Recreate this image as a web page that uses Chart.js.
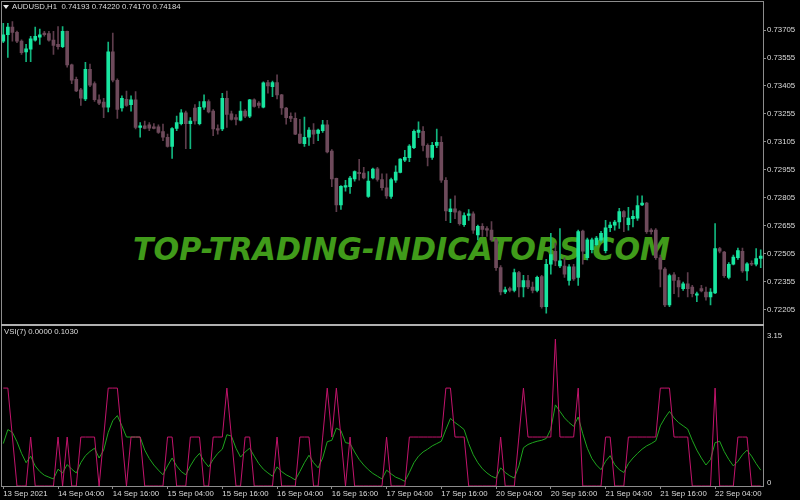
<!DOCTYPE html>
<html>
<head>
<meta charset="utf-8">
<script src="https://cdn.jsdelivr.net/npm/chart.js@4.4.0/dist/chart.umd.min.js"></script>
<style>
  html, body { margin: 0; padding: 0; background: #000; }
  #wrap { position: relative; width: 800px; height: 500px; overflow: hidden; background: #000;
          font-family: 'Liberation Sans', Arial, sans-serif; }
  #mark { position: absolute; left: 0; top: 0; }
  #priceBox { position: absolute; left: 0; top: 0; width: 800px; height: 326px; }
  #vsiBox { position: absolute; left: 0; top: 326px; width: 800px; height: 174px; }
  .frame { position: absolute; left: 1px; top: 1px; width: 763px; height: 485px; box-sizing: border-box;
           border-left: 1px solid #8c8c8c; border-top: 1px solid #8c8c8c; border-right: 1px solid #8c8c8c; }
  .sep { position: absolute; left: 1px; top: 324px; width: 763px; height: 2px; background: #b0b0b0; }
  .caption { position: absolute; color: #dcdcdc; font-size: 7.8px; line-height: 9px; white-space: pre; }
  .tri { position: absolute; left: 3px; top: 5px; width: 0; height: 0;
         border-left: 3px solid transparent; border-right: 3px solid transparent; border-top: 4px solid #e6e6e6; }
</style>
</head>
<body>
<div id="wrap">
  <svg id="mark" width="800" height="500">
    <text x="133" y="260" textLength="537" lengthAdjust="spacingAndGlyphs"
          font-family="DejaVu Sans" font-weight="bold" font-style="italic" font-size="31.5"
          fill="#409b1a">TOP-TRADING-INDICATORS.COM</text>
  </svg>
  <div id="priceBox"><canvas id="price"></canvas></div>
  <div id="vsiBox"><canvas id="vsi"></canvas></div>
  <div class="frame"></div>
  <div class="sep"></div>
  <div class="tri"></div>
  <div class="caption" style="left:12px; top:2px;">AUDUSD,H1  0.74193 0.74220 0.74170 0.74184</div>
  <div class="caption" style="left:4px; top:327px;">VSI(7) 0.0000 0.1030</div>
</div>
<script>
// AUDUSD H1, 13 Sep 16:00 -> 22 Sep 14:00
const open = [
  0.73646, 0.73680, 0.73721, 0.73693, 0.73646, 0.73588, 0.73602, 0.73651, 0.73667, 0.73689,
  0.73686, 0.73651, 0.73628, 0.73616, 0.73698, 0.73518, 0.73441, 0.73384, 0.73336, 0.73494,
  0.73418, 0.73331, 0.73318, 0.73291, 0.73588, 0.73436, 0.73287, 0.73334, 0.73305, 0.73331,
  0.73182, 0.73191, 0.73196, 0.73186, 0.73186, 0.73160, 0.73130, 0.73081, 0.73177, 0.73203,
  0.73261, 0.73203, 0.73287, 0.73203, 0.73291, 0.73322, 0.73270, 0.73177, 0.73174, 0.73339,
  0.73256, 0.73235, 0.73222, 0.73270, 0.73243, 0.73331, 0.73313, 0.73291, 0.73423, 0.73401,
  0.73423, 0.73357, 0.73287, 0.73242, 0.73231, 0.73147, 0.73095, 0.73130, 0.73168, 0.73151,
  0.73165, 0.73196, 0.73056, 0.72909, 0.72766, 0.72862, 0.72864, 0.72906, 0.72941, 0.72938,
  0.72812, 0.72911, 0.72960, 0.72903, 0.72859, 0.72812, 0.72899, 0.72941, 0.73007, 0.73020,
  0.73074, 0.73156, 0.73161, 0.73086, 0.73022, 0.73086, 0.73103, 0.72899, 0.72731, 0.72745,
  0.72731, 0.72661, 0.72710, 0.72719, 0.72605, 0.72652, 0.72640, 0.72631, 0.72579, 0.72430,
  0.72299, 0.72317, 0.72308, 0.72404, 0.72326, 0.72361, 0.72326, 0.72308, 0.72382, 0.72221,
  0.72448, 0.72518, 0.72439, 0.72439, 0.72361, 0.72434, 0.72378, 0.72626, 0.72483, 0.72526,
  0.72553, 0.72577, 0.72521, 0.72644, 0.72658, 0.72675, 0.72731, 0.72661, 0.72693, 0.72696,
  0.72766, 0.72777, 0.72631, 0.72631, 0.72483, 0.72422, 0.72230, 0.72392, 0.72361, 0.72317,
  0.72343, 0.72326, 0.72282, 0.72317, 0.72299, 0.72273, 0.72294, 0.72532, 0.72514, 0.72378,
  0.72448, 0.72483, 0.72518, 0.72413, 0.72451, 0.72448, 0.72479
];
const high = [
  0.73742, 0.73742, 0.73751, 0.73700, 0.73653, 0.73628, 0.73672, 0.73721, 0.73710, 0.73698,
  0.73698, 0.73698, 0.73724, 0.73724, 0.73700, 0.73523, 0.73453, 0.73392, 0.73532, 0.73523,
  0.73427, 0.73357, 0.73339, 0.73641, 0.73689, 0.73444, 0.73352, 0.73378, 0.73352, 0.73375,
  0.73208, 0.73217, 0.73208, 0.73203, 0.73196, 0.73200, 0.73147, 0.73182, 0.73243, 0.73279,
  0.73270, 0.73235, 0.73305, 0.73322, 0.73357, 0.73331, 0.73279, 0.73196, 0.73366, 0.73378,
  0.73270, 0.73252, 0.73322, 0.73279, 0.73334, 0.73336, 0.73322, 0.73427, 0.73436, 0.73431,
  0.73465, 0.73360, 0.73291, 0.73261, 0.73261, 0.73226, 0.73238, 0.73182, 0.73203, 0.73174,
  0.73221, 0.73221, 0.73064, 0.72911, 0.72871, 0.72899, 0.72920, 0.72950, 0.73011, 0.72969,
  0.72946, 0.72964, 0.72969, 0.72934, 0.72934, 0.72911, 0.72976, 0.73016, 0.73060, 0.73091,
  0.73170, 0.73212, 0.73187, 0.73095, 0.73103, 0.73174, 0.73133, 0.72913, 0.72798, 0.72815,
  0.72736, 0.72724, 0.72742, 0.72729, 0.72658, 0.72666, 0.72651, 0.72677, 0.72588, 0.72441,
  0.72326, 0.72326, 0.72422, 0.72410, 0.72389, 0.72389, 0.72352, 0.72385, 0.72389, 0.72474,
  0.72614, 0.72562, 0.72640, 0.72483, 0.72446, 0.72448, 0.72631, 0.72631, 0.72588, 0.72588,
  0.72598, 0.72625, 0.72684, 0.72675, 0.72684, 0.72749, 0.72736, 0.72754, 0.72736, 0.72815,
  0.72815, 0.72780, 0.72640, 0.72640, 0.72497, 0.72430, 0.72395, 0.72404, 0.72378, 0.72352,
  0.72404, 0.72335, 0.72299, 0.72335, 0.72326, 0.72317, 0.72666, 0.72539, 0.72518, 0.72457,
  0.72497, 0.72535, 0.72535, 0.72457, 0.72467, 0.72532, 0.72526
];
const low = [
  0.73637, 0.73558, 0.73646, 0.73637, 0.73575, 0.73536, 0.73536, 0.73646, 0.73628, 0.73672,
  0.73646, 0.73575, 0.73602, 0.73611, 0.73506, 0.73418, 0.73375, 0.73301, 0.73326, 0.73401,
  0.73322, 0.73305, 0.73235, 0.73266, 0.73427, 0.73231, 0.73270, 0.73296, 0.73270, 0.73174,
  0.73130, 0.73174, 0.73165, 0.73174, 0.73151, 0.73112, 0.73077, 0.73016, 0.73165, 0.73196,
  0.73069, 0.73069, 0.73200, 0.73196, 0.73279, 0.73261, 0.73139, 0.73147, 0.73165, 0.73182,
  0.73221, 0.73196, 0.73217, 0.73235, 0.73235, 0.73291, 0.73287, 0.73287, 0.73366, 0.73348,
  0.73336, 0.73252, 0.73200, 0.73213, 0.73144, 0.73095, 0.73081, 0.73086, 0.73095, 0.73112,
  0.73156, 0.73046, 0.72864, 0.72731, 0.72742, 0.72841, 0.72829, 0.72894, 0.72899, 0.72906,
  0.72807, 0.72906, 0.72894, 0.72846, 0.72801, 0.72801, 0.72888, 0.72938, 0.72999, 0.72999,
  0.73069, 0.73127, 0.73056, 0.72976, 0.73011, 0.73074, 0.72888, 0.72682, 0.72672, 0.72693,
  0.72658, 0.72651, 0.72684, 0.72614, 0.72579, 0.72598, 0.72598, 0.72572, 0.72415, 0.72284,
  0.72290, 0.72299, 0.72299, 0.72273, 0.72273, 0.72317, 0.72294, 0.72299, 0.72212, 0.72186,
  0.72395, 0.72441, 0.72430, 0.72378, 0.72336, 0.72362, 0.72334, 0.72448, 0.72472, 0.72509,
  0.72546, 0.72567, 0.72509, 0.72623, 0.72631, 0.72640, 0.72623, 0.72631, 0.72649, 0.72684,
  0.72763, 0.72614, 0.72609, 0.72474, 0.72326, 0.72221, 0.72221, 0.72290, 0.72273, 0.72308,
  0.72273, 0.72273, 0.72247, 0.72299, 0.72256, 0.72230, 0.72290, 0.72509, 0.72378, 0.72369,
  0.72445, 0.72474, 0.72404, 0.72361, 0.72441, 0.72439, 0.72430
];
const close = [
  0.73680, 0.73721, 0.73693, 0.73646, 0.73584, 0.73605, 0.73658, 0.73672, 0.73680, 0.73680,
  0.73651, 0.73623, 0.73616, 0.73698, 0.73518, 0.73436, 0.73378, 0.73339, 0.73494, 0.73410,
  0.73331, 0.73313, 0.73291, 0.73588, 0.73436, 0.73279, 0.73339, 0.73301, 0.73331, 0.73182,
  0.73191, 0.73177, 0.73179, 0.73177, 0.73156, 0.73130, 0.73081, 0.73177, 0.73208, 0.73261,
  0.73203, 0.73217, 0.73217, 0.73291, 0.73322, 0.73266, 0.73174, 0.73168, 0.73339, 0.73252,
  0.73226, 0.73226, 0.73270, 0.73243, 0.73331, 0.73296, 0.73301, 0.73422, 0.73406, 0.73423,
  0.73357, 0.73287, 0.73235, 0.73231, 0.73147, 0.73098, 0.73130, 0.73168, 0.73147, 0.73168,
  0.73196, 0.73051, 0.72906, 0.72766, 0.72867, 0.72871, 0.72911, 0.72946, 0.72934, 0.72911,
  0.72894, 0.72959, 0.72903, 0.72859, 0.72815, 0.72903, 0.72943, 0.73013, 0.73022, 0.73082,
  0.73161, 0.73168, 0.73086, 0.73022, 0.73086, 0.73103, 0.72899, 0.72735, 0.72745, 0.72728,
  0.72666, 0.72710, 0.72719, 0.72631, 0.72652, 0.72635, 0.72631, 0.72579, 0.72430, 0.72299,
  0.72311, 0.72308, 0.72404, 0.72326, 0.72361, 0.72326, 0.72308, 0.72378, 0.72221, 0.72448,
  0.72500, 0.72466, 0.72466, 0.72395, 0.72434, 0.72369, 0.72623, 0.72518, 0.72579, 0.72579,
  0.72588, 0.72614, 0.72644, 0.72658, 0.72675, 0.72731, 0.72702, 0.72696, 0.72705, 0.72763,
  0.72777, 0.72623, 0.72623, 0.72483, 0.72422, 0.72230, 0.72387, 0.72361, 0.72326, 0.72343,
  0.72317, 0.72290, 0.72290, 0.72305, 0.72273, 0.72299, 0.72532, 0.72518, 0.72387, 0.72448,
  0.72487, 0.72521, 0.72413, 0.72451, 0.72448, 0.72479, 0.72492
];

// VSI(7) main line and its signal line
const vsiLine = [
  2.1, 2.1, 1.05, 0, 0, 0, 1.05, 0, 0, 0,
  0, 0, 1.05, 0, 1.05, 0, 0, 1.05, 1.05, 1.05,
  1.05, 0, 1.05, 2.1, 2.1, 2.1, 1.05, 0, 1.05, 1.05,
  1.05, 0, 0, 0, 0, 0, 1.05, 1.05, 0, 0,
  0, 1.05, 1.05, 1.05, 0, 0, 1.05, 1.05, 1.05, 2.1,
  1.05, 0, 0, 1.05, 1.05, 0, 0, 0, 0, 0,
  1.05, 0, 0, 0, 0, 1.05, 1.05, 1.05, 0, 0,
  1.05, 2.1, 1.05, 2.1, 1.05, 0, 1.05, 0, 0, 0,
  0, 0, 0, 0, 1.05, 0, 0, 0, 0, 1.05,
  1.05, 1.05, 1.05, 1.05, 1.05, 1.05, 1.05, 2.1, 2.1, 1.05,
  1.05, 1.05, 0, 0, 0, 0, 0, 0, 0, 1.05,
  0, 0, 0, 1.05, 2.1, 1.05, 1.05, 1.05, 1.05, 1.05,
  1.05, 3.15, 1.05, 1.05, 1.05, 1.05, 2.1, 0, 0, 0,
  0, 0, 1.05, 1.05, 0, 0, 0, 1.05, 1.05, 1.05,
  1.05, 1.05, 1.05, 1.05, 2.1, 2.1, 2.1, 1.05, 1.05, 1.05,
  1.05, 0, 0, 0, 0, 0, 2.1, 0, 0, 0,
  0, 1.05, 1.05, 1.05, 0, 0, 0
];
const vsiSignal = [
  0.91, 1.21, 1.15, 0.95, 0.70, 0.50, 0.64, 0.43, 0.31, 0.23,
  0.19, 0.15, 0.36, 0.28, 0.46, 0.36, 0.28, 0.50, 0.65, 0.74,
  0.81, 0.60, 0.77, 1.15, 1.40, 1.51, 1.29, 1.05, 1.05, 1.05,
  1.05, 0.77, 0.59, 0.45, 0.34, 0.24, 0.43, 0.60, 0.43, 0.31,
  0.24, 0.43, 0.59, 0.70, 0.53, 0.41, 0.57, 0.70, 0.79, 1.10,
  1.07, 0.81, 0.62, 0.73, 0.81, 0.64, 0.48, 0.36, 0.28, 0.21,
  0.41, 0.31, 0.24, 0.19, 0.13, 0.31, 0.50, 0.66, 0.50, 0.39,
  0.60, 0.95, 0.98, 1.24, 1.19, 0.93, 0.91, 0.73, 0.57, 0.45,
  0.35, 0.27, 0.21, 0.15, 0.34, 0.26, 0.19, 0.15, 0.10, 0.29,
  0.50, 0.64, 0.73, 0.79, 0.86, 0.91, 0.96, 1.21, 1.45, 1.36,
  1.29, 1.21, 0.91, 0.67, 0.50, 0.37, 0.28, 0.21, 0.17, 0.39,
  0.29, 0.22, 0.17, 0.43, 0.82, 0.89, 0.93, 0.96, 0.98, 1.02,
  1.22, 1.74, 1.60, 1.46, 1.36, 1.28, 1.48, 1.12, 0.81, 0.59,
  0.45, 0.35, 0.53, 0.65, 0.46, 0.35, 0.29, 0.48, 0.60, 0.70,
  0.79, 0.86, 0.91, 0.97, 1.29, 1.46, 1.60, 1.46, 1.36, 1.29,
  1.22, 0.98, 0.77, 0.60, 0.45, 0.57, 0.93, 0.96, 0.74, 0.57,
  0.43, 0.53, 0.67, 0.77, 0.64, 0.48, 0.34
];

const priceTicks = [0.72205, 0.72355, 0.72505, 0.72655, 0.72805, 0.72955, 0.73105, 0.73255, 0.73405, 0.73555, 0.73705];
const vsiTicks = [0, 3.15];
const timeLabels = ['13 Sep 2021', '14 Sep 04:00', '14 Sep 16:00', '15 Sep 04:00', '15 Sep 16:00',
  '16 Sep 04:00', '16 Sep 16:00', '17 Sep 04:00', '17 Sep 16:00', '20 Sep 04:00', '20 Sep 16:00',
  '21 Sep 04:00', '21 Sep 16:00', '22 Sep 04:00'];
const labelEvery = 12;
const categories = open.map((_, i) => i);

const BULL = '#18e6a0';
const BULL_WICK = '#12b57e';
const BEAR = '#6e4a5b';
const BEAR_WICK = '#5e3d4c';
const AXIS = '#8c8c8c';
const TEXT = '#dcdcdc';
const FONT = {family: "'Liberation Sans', Arial, sans-serif", size: 7.8};
const AXIS_W = 37;

Chart.defaults.animation = false;
Chart.defaults.plugins.legend.display = false;
Chart.defaults.plugins.tooltip.enabled = false;

const bull = close.map((c, i) => c >= open[i]);

new Chart(document.getElementById('price'), {
  type: 'bar',
  data: {
    labels: categories,
    datasets: [{
      data: open.map((o, i) => [o, close[i]]),
      backgroundColor: bull.map(b => b ? BULL : BEAR),
      barThickness: 3,
      minBarLength: 1,
      grouped: false,
      order: 0,
    }, {
      data: low.map((l, i) => [l, high[i]]),
      backgroundColor: bull.map(b => b ? BULL_WICK : BEAR_WICK),
      barThickness: 1,
      grouped: false,
      order: 1,
    }],
  },
  options: {
    responsive: true,
    maintainAspectRatio: false,
    devicePixelRatio: 1,
    layout: {padding: {left: 1, top: 2, right: 0, bottom: 2}},
    scales: {
      x: {display: false, offset: true},
      y: {
        position: 'right',
        min: 0.721472,
        max: 0.738361,
        afterFit: s => { s.width = AXIS_W; },
        afterBuildTicks: s => { s.ticks = priceTicks.map(v => ({value: v})); },
        ticks: {color: TEXT, font: FONT, padding: 1, callback: v => v.toFixed(5)},
        grid: {drawOnChartArea: false, tickLength: 3, color: AXIS},
        border: {color: AXIS},
      },
    },
  },
});

new Chart(document.getElementById('vsi'), {
  type: 'line',
  data: {
    labels: categories,
    datasets: [{
      data: vsiLine,
      borderColor: '#c3146c',
      borderWidth: 1,
      pointRadius: 0,
      tension: 0,
    }, {
      data: vsiSignal,
      borderColor: '#1ea51e',
      borderWidth: 1,
      pointRadius: 0,
      tension: 0,
    }],
  },
  options: {
    responsive: true,
    maintainAspectRatio: false,
    devicePixelRatio: 1,
    layout: {padding: {left: 1, top: 0, right: 0, bottom: 0}},
    scales: {
      x: {
        offset: true,
        afterFit: s => { s.height = 14; },
        grid: {
          offset: false,
          drawOnChartArea: false,
          tickLength: 3,
          color: ctx => ctx.index % labelEvery === 0 ? AXIS : 'rgba(0,0,0,0)',
        },
        border: {color: AXIS},
        ticks: {
          autoSkip: false, maxRotation: 0, minRotation: 0, align: 'start', padding: 0,
          color: TEXT, font: FONT,
          callback: (v, i) => i % labelEvery === 0 ? timeLabels[i / labelEvery] : '',
        },
      },
      y: {
        position: 'right',
        min: 0,
        max: 3.31,
        afterFit: s => { s.width = AXIS_W; },
        afterBuildTicks: s => { s.ticks = vsiTicks.map(v => ({value: v})); },
        ticks: {color: TEXT, font: FONT, padding: 1, labelOffset: -3.5,
                callback: v => v === 0 ? '0' : v.toFixed(2)},
        grid: {drawOnChartArea: false, tickLength: 3, color: 'rgba(0,0,0,0)'},
        border: {color: AXIS},
      },
    },
  },
});
</script>
</body>
</html>
